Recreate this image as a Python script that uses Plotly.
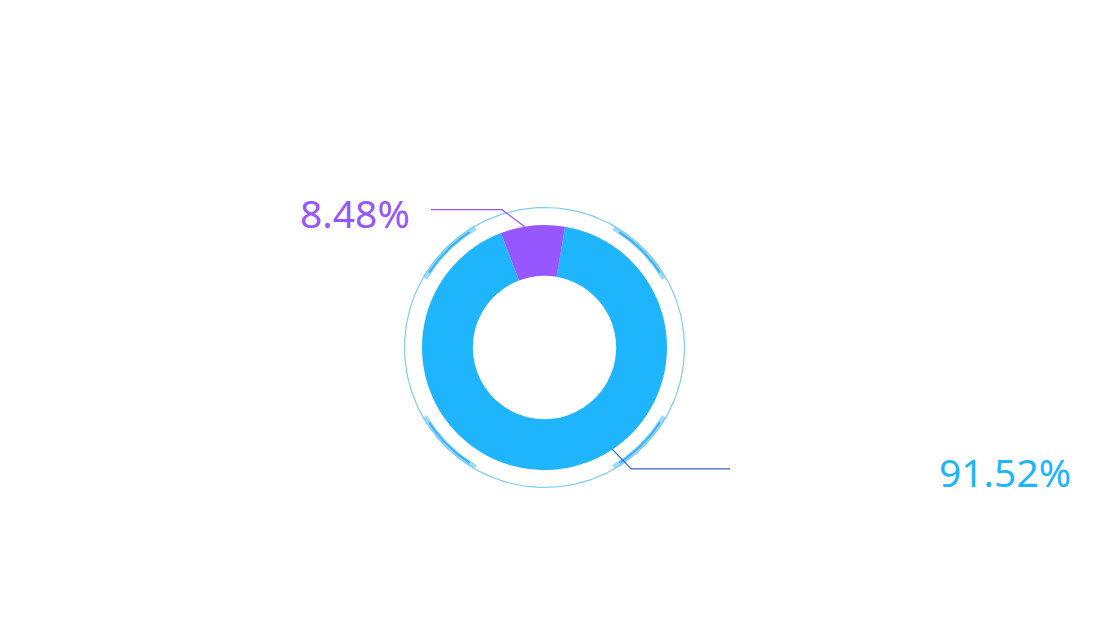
import numpy as np
import plotly.graph_objects as go

# ---- data ----
categories = ["A", "B"]
values = [91.52, 8.48]
colors = ["#1FB5FC", "#9657FF"]
line_colors = ["#3367CF", "#9657FF"]

W, H = 1100, 630
cx, cy = 544.5, 347.5
r_out = 122.5
hole = 0.585
rotation = 9.7

fig = go.Figure()

fig.add_trace(go.Pie(
    labels=categories, values=values, sort=False, direction="clockwise",
    rotation=rotation, hole=hole, textinfo="none", hoverinfo="label+percent",
    marker=dict(colors=colors, line=dict(width=0)),
    domain=dict(x=[(cx - r_out) / W, (cx + r_out) / W],
                y=[(H - cy - r_out) / H, (H - cy + r_out) / H]),
    showlegend=False,
))

def pt(angle_deg, r):
    a = np.radians(angle_deg)
    return cx + r * np.sin(a), cy - r * np.cos(a)

# outer thin ring
t = np.linspace(0, 360, 361)
xs, ys = pt(t, 140)
fig.add_trace(go.Scatter(x=xs, y=ys, mode="lines", line=dict(color="#7CCDF6", width=1.2),
                         hoverinfo="skip", showlegend=False))
# decorative arcs (soft, two layers)
for start in [30, 120, 210, 300]:
    t = np.linspace(start, start + 30, 40)
    xs, ys = pt(t, 137.8)
    fig.add_trace(go.Scatter(x=xs, y=ys, mode="lines",
                             line=dict(color="rgba(90,195,248,0.6)", width=4.5),
                             hoverinfo="skip", showlegend=False))
    t = np.linspace(start + 3, start + 27, 40)
    xs, ys = pt(t, 137.5)
    fig.add_trace(go.Scatter(x=xs, y=ys, mode="lines",
                             line=dict(color="rgba(35,165,240,0.8)", width=2),
                             hoverinfo="skip", showlegend=False))

# leader lines + labels
# blue slice label (lower right)
x0, y0 = pt(147, 115)
x1, y1 = x0 + 24, y0 + 25
fig.add_trace(go.Scatter(x=[x0, x1, 730], y=[y0, y1, y1], mode="lines",
                         line=dict(color=line_colors[0], width=1.2),
                         hoverinfo="skip", showlegend=False))
# purple slice label (upper left)
x0, y0 = pt(-9.2, 122.4)
x1, y1 = x0 - 23, y0 - 17
fig.add_trace(go.Scatter(x=[x0, x1, 431], y=[y0, y1, y1], mode="lines",
                         line=dict(color=line_colors[1], width=1.2),
                         hoverinfo="skip", showlegend=False))

fig.add_annotation(x=937, y=471, xref="x", yref="y", text=f"{values[0]:.2f}%",
                   showarrow=False, xanchor="left", yanchor="middle",
                   font=dict(family="Noto Sans", size=39, color=colors[0]))
fig.add_annotation(x=412, y=212, xref="x", yref="y", text=f"{values[1]:.2f}%",
                   showarrow=False, xanchor="right", yanchor="middle",
                   font=dict(family="Noto Sans", size=39, color=colors[1]))

fig.update_layout(
    width=W, height=H, margin=dict(l=0, r=0, t=0, b=0),
    paper_bgcolor="white", plot_bgcolor="white",
    xaxis=dict(range=[0, W], visible=False, fixedrange=True),
    yaxis=dict(range=[H, 0], visible=False, fixedrange=True),
)

fig.write_html("out.html")
